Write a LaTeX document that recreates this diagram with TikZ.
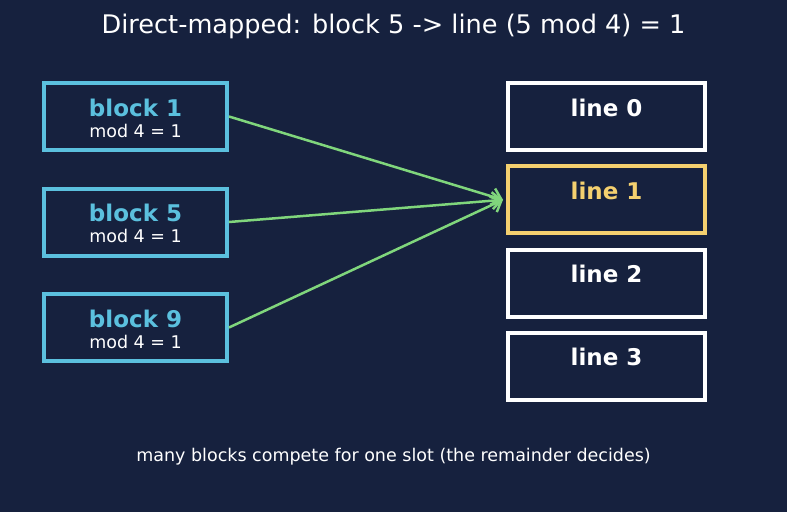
\documentclass[tikz,border=0pt]{standalone}
\usepackage{fontspec}
\setmainfont{DejaVu Sans}
\usetikzlibrary{arrows.meta}
\definecolor{bgnavy}{HTML}{16213E}
\definecolor{blockcyan}{HTML}{5BC0DE}
\definecolor{hityellow}{HTML}{F4D06F}
\definecolor{mapgreen}{HTML}{80D67C}
\begin{document}
\begin{tikzpicture}[x=1pt, y=-1pt,
    blockbox/.style={draw=blockcyan, line width=4pt, inner sep=0pt, minimum width=183pt, minimum height=67pt},
    linebox/.style={draw=white, line width=4pt, inner sep=0pt, minimum width=197pt, minimum height=67pt},
    blockname/.style={anchor=base, text=blockcyan, font=\fontsize{23}{27}\selectfont\bfseries},
    modtext/.style={anchor=base, text=white, font=\fontsize{17.5}{21}\selectfont},
    linename/.style={anchor=base, text=white, font=\fontsize{23}{27}\selectfont\bfseries},
    maparrow/.style={draw=mapgreen, line width=2.5pt, -{Straight Barb[length=9pt,width=17pt]}}]
  \fill[bgnavy] (0,0) rectangle (787,512);
  \useasboundingbox (0,0) rectangle (787,512);
  \node[anchor=base, text=white, font=\fontsize{25.6}{30}\selectfont] (title) at (393.5,33)
    {Direct-mapped: block 5 -> line (5 mod 4) = 1};
  % blocks of memory
  \node[blockbox] (b1) at (135.5,116.5) {};
  \node[blockname] at (135.5,116) {block 1};
  \node[modtext] at (135.5,137) {mod 4 = 1};
  \node[blockbox] (b5) at (135.5,222) {};
  \node[blockname] at (135.5,221.5) {block 5};
  \node[modtext] at (135.5,242.5) {mod 4 = 1};
  \node[blockbox] (b9) at (135.5,327.5) {};
  \node[blockname] at (135.5,327) {block 9};
  \node[modtext] at (135.5,348) {mod 4 = 1};
  % cache lines
  \node[linebox] (l0) at (606.5,116.5) {};
  \node[linename] at (606.5,116) {line 0};
  \node[linebox, draw=hityellow] (l1) at (606.5,199.8) {};
  \node[linename, text=hityellow] at (606.5,199.3) {line 1};
  \node[linebox] (l2) at (606.5,283) {};
  \node[linename] at (606.5,282.5) {line 2};
  \node[linebox] (l3) at (606.5,366.3) {};
  \node[linename] at (606.5,365.8) {line 3};
  % all three land on line 1
  \coordinate (hit) at ([xshift=-3pt]l1.west);
  \draw[maparrow] (b1.east) -- (hit);
  \draw[maparrow] (b5.east) -- (hit);
  \draw[maparrow] (b9.east) -- (hit);
  \node[anchor=base, text=white, font=\fontsize{17.5}{21}\selectfont] (note) at (393.5,461.5)
    {many blocks compete for one slot (the remainder decides)};
\end{tikzpicture}
\end{document}
